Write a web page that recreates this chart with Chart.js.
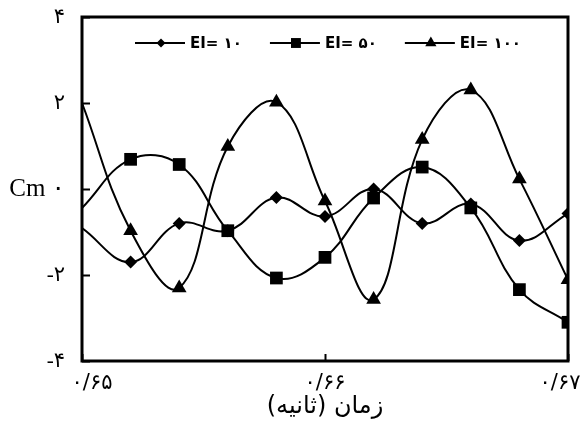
<!DOCTYPE html>
<html>
<head>
<meta charset="utf-8">
<script src="https://cdn.jsdelivr.net/npm/chart.js@4.4.0/dist/chart.umd.min.js"></script>
<style>
  html, body { margin: 0; padding: 0; background: #fff; }
</style>
</head>
<body>
<canvas id="chart" width="581" height="421"></canvas>
<script>
// time (s) and Cm values
var times = [0.650, 0.652, 0.654, 0.656, 0.658, 0.660, 0.662, 0.664, 0.666, 0.668, 0.670];
var ei10  = [-0.91, -1.70, -0.80, -0.97, -0.20, -0.64, 0.00, -0.80, -0.35, -1.20, -0.57];
var ei50  = [-0.44, 0.69, 0.57, -0.97, -2.07, -1.59, -0.21, 0.51, -0.44, -2.34, -3.10];
var ei100 = [2.00, -0.97, -2.30, 0.99, 2.02, -0.28, -2.57, 1.15, 2.30, 0.23, -2.11];
var seriesLabels = ['EI= ۱۰', 'EI= ۵۰', 'EI= ۱۰۰'];
var xTicks = [0.65, 0.66, 0.67];

function fa(s) {
    return String(s).replace(/[0-9]/g, function (d) { return '۰۱۲۳۴۵۶۷۸۹'[d]; }).replace('.', '/');
}

function pts(arr) {
    return times.map(function (t, i) { return { x: t, y: arr[i] }; });
}

function makeSet(label, arr, style, r) {
    return {
        label: label,
        data: pts(arr),
        borderColor: '#000',
        backgroundColor: '#000',
        borderWidth: 2,
        tension: 0.4,
        pointStyle: style,
        pointRadius: function (c) { return c.dataIndex === 0 ? 0 : r; },
        pointBorderWidth: 0
    };
}

// frame round the plot area, under the lines
var framePlugin = {
    id: 'frame',
    beforeDatasetsDraw: function (chart) {
        var a = chart.chartArea, ctx = chart.ctx;
        ctx.save();
        ctx.strokeStyle = '#000';
        ctx.lineWidth = 3;
        ctx.strokeRect(a.left, a.top, a.right - a.left, a.bottom - a.top);
        ctx.restore();
    }
};

// legend inside the frame: line + marker + text
var legendPlugin = {
    id: 'inLegend',
    afterDatasetsDraw: function (chart) {
        var ctx = chart.ctx;
        var x = 135, y = 43;
        var sizes = [4.5, 7, 6.5];
        ctx.save();
        ctx.font = 'bold 15px "DejaVu Sans"';
        ctx.textBaseline = 'middle';
        ctx.direction = 'ltr';
        chart.data.datasets.forEach(function (ds, i) {
            ctx.strokeStyle = '#000';
            ctx.fillStyle = '#000';
            ctx.lineWidth = 2;
            ctx.beginPath();
            ctx.moveTo(x, y);
            ctx.lineTo(x + 50, y);
            ctx.stroke();
            Chart.helpers.drawPoint(ctx, { pointStyle: ds.pointStyle, radius: sizes[i], rotation: 0, borderWidth: 0 }, x + 26, y);
            ctx.fillText(ds.label, x + 55, y + 1);
            x += 55 + ctx.measureText(ds.label).width + 28;
        });
        ctx.restore();
    }
};

// x tick labels, nudged inward at the two ends as in the figure
var xLabelPlugin = {
    id: 'xLabels',
    afterDraw: function (chart) {
        var xs = chart.scales.x, ctx = chart.ctx;
        var nudge = [10, 0, -8];
        ctx.save();
        ctx.font = '21px "DejaVu Sans"';
        ctx.fillStyle = '#000';
        ctx.textAlign = 'center';
        ctx.textBaseline = 'middle';
        xTicks.forEach(function (v, i) {
            ctx.fillText(fa(v.toFixed(2)), xs.getPixelForValue(v) + nudge[i], 384);
        });
        ctx.restore();
    }
};

new Chart(document.getElementById('chart'), {
    type: 'line',
    data: {
        datasets: [
            makeSet(seriesLabels[0], ei10, 'rectRot', 6.5),
            makeSet(seriesLabels[1], ei50, 'rect', 9),
            makeSet(seriesLabels[2], ei100, 'triangle', 8.5)
        ]
    },
    options: {
        responsive: false,
        animation: false,
        layout: { padding: { top: 17, right: 13, left: 0, bottom: 0 } },
        plugins: {
            legend: { display: false },
            tooltip: { enabled: false }
        },
        scales: {
            x: {
                type: 'linear',
                min: 0.65,
                max: 0.67,
                ticks: { stepSize: 0.01, display: false },
                grid: { drawOnChartArea: false, drawTicks: true, tickLength: -7, tickColor: '#000', tickWidth: 2 },
                border: { display: false },
                title: {
                    display: true,
                    text: '\u2067زمان (ثانیه)\u2069',
                    color: '#000',
                    font: { family: 'DejaVu Sans', size: 24 },
                    padding: { top: 0, bottom: 0 }
                },
                afterFit: function (s) { s.height = 60; s.paddingLeft = 0; s.paddingRight = 0; }
            },
            y: {
                min: -4,
                max: 4,
                ticks: {
                    stepSize: 2,
                    color: '#000',
                    padding: 25,
                    font: function (c) {
                        return c.tick && c.tick.value === 0
                            ? { family: '"Liberation Serif", "DejaVu Sans"', size: 25 }
                            : { family: '"Liberation Serif", "DejaVu Sans"', size: 21 };
                    },
                    callback: function (v) {
                        if (v === 0) return 'Cm ۰';
                        return (v < 0 ? '-' : '') + fa(Math.abs(v));
                    }
                },
                grid: { drawOnChartArea: false, drawTicks: true, tickLength: -8, tickColor: '#000', tickWidth: 2 },
                border: { display: false },
                afterFit: function (s) { s.width = 82; s.paddingTop = 0; s.paddingBottom = 0; }
            }
        }
    },
    plugins: [framePlugin, legendPlugin, xLabelPlugin]
});
</script>
</body>
</html>
